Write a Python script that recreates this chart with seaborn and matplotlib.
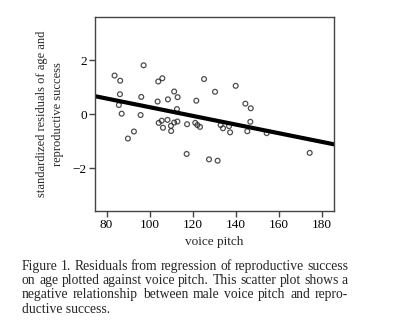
import matplotlib
matplotlib.use("Agg")
import matplotlib.pyplot as plt
import seaborn as sns
import pandas as pd

# Voice pitch (Hz) and standardized residuals of reproductive success on age
voice_pitch = [
    83.7, 86.3, 97.2, 104.0, 105.9, 125.3, 140.0, 86.2, 96.1, 111.4,
    113.0, 103.7, 108.5, 121.7, 130.4, 144.5, 147.0, 85.7, 112.7, 87.0,
    95.8, 104.2, 105.6, 108.3, 106.2, 109.9, 110.0, 111.4, 112.9, 117.4,
    121.2, 122.2, 123.4, 133.0, 134.1, 136.9, 137.4, 145.4, 146.8, 154.4,
    92.7, 89.9, 117.2, 127.6, 131.6, 174.4,
]
residuals = [
    1.43, 1.24, 1.81, 1.21, 1.33, 1.30, 1.05, 0.74, 0.64, 0.84,
    0.63, 0.47, 0.55, 0.50, 0.83, 0.39, 0.22, 0.34, 0.19, 0.02,
    -0.03, -0.32, -0.24, -0.21, -0.50, -0.43, -0.62, -0.31, -0.27, -0.37,
    -0.32, -0.40, -0.47, -0.40, -0.52, -0.44, -0.67, -0.63, -0.28, -0.70,
    -0.64, -0.90, -1.47, -1.67, -1.72, -1.43,
]
x_ticks = [80, 100, 120, 140, 160, 180]
y_ticks = [-2, 0, 2]

caption_lines = [
    "Figure 1. Residuals from regression of reproductive success",
    "on age plotted against voice pitch. This scatter plot shows a",
    "negative relationship between male voice pitch and repro-",
    "ductive success.",
]

df = pd.DataFrame({"voice pitch": voice_pitch, "resid": residuals})

sns.set_style("ticks")
plt.rcParams["font.family"] = ["Liberation Serif", "DejaVu Serif"]
plt.rcParams["xtick.direction"] = "out"
plt.rcParams["ytick.direction"] = "out"

fig = plt.figure(figsize=(4.0, 3.31), dpi=100)
ax = fig.add_axes([0.2375, 0.3625, 0.5975, 0.5865])
ax.set_xlim(74.6, 185.7)
ax.set_ylim(-3.58, 3.6)

sns.regplot(
    data=df, x="voice pitch", y="resid", ax=ax, ci=None, truncate=False,
    scatter_kws=dict(s=12, facecolors="none", edgecolors="#222222", linewidths=0.9),
    line_kws=dict(color="black", lw=3.0),
)

ax.set_xticks(x_ticks)
ax.set_yticks(y_ticks)
ax.set_yticklabels(["\u22122" if v < 0 else str(v) for v in y_ticks])
ax.tick_params(axis="both", length=4, width=1.0, color="#444444", labelsize=9.5,
               labelcolor="black", pad=2)
for sp in ax.spines.values():
    sp.set_color("#444444")
    sp.set_linewidth(1.0)
    sp.set_visible(True)

ax.set_xlabel("voice pitch", fontsize=9.5, labelpad=3)
ax.set_ylabel("standardized residuals of age and\nreproductive success",
              fontsize=9, linespacing=1.45, labelpad=6)

# Justified caption under the plot
renderer = fig.canvas.get_renderer()
left_px, right_px = 22, 348
top_px, line_step = 266.5, 14.2
W, H = fig.bbox.width, fig.bbox.height
cap_size = 9.8
for i, line in enumerate(caption_lines):
    y = 1 - (top_px + i * line_step) / H
    words = line.split(" ")
    if i == len(caption_lines) - 1:
        fig.text(left_px / W, y, line, fontsize=cap_size, va="center", ha="left")
        continue
    widths = []
    for w in words:
        t = fig.text(0, 0, w, fontsize=cap_size)
        widths.append(t.get_window_extent(renderer).width)
        t.remove()
    gap = (right_px - left_px - sum(widths)) / (len(words) - 1)
    x = left_px
    for w, wd in zip(words, widths):
        fig.text(x / W, y, w, fontsize=cap_size, va="center", ha="left")
        x += wd + gap

fig.savefig("out.png", dpi=100)
